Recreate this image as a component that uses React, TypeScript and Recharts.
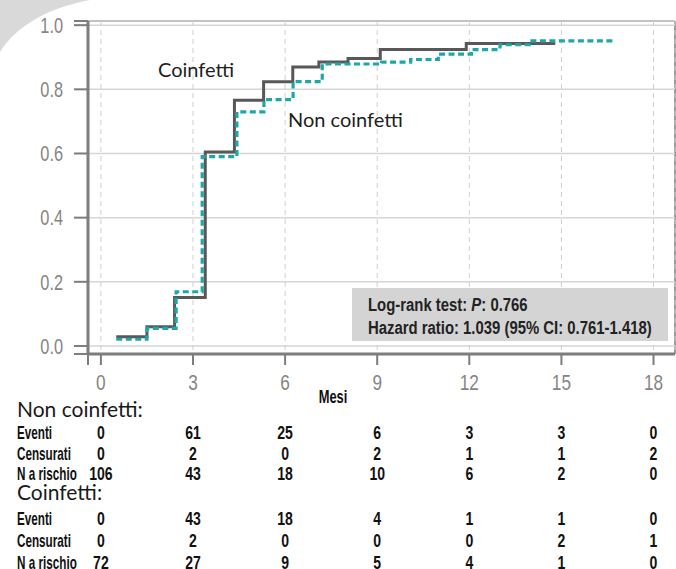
import type { ReactNode } from 'react'
import { LineChart, Line, XAxis, YAxis, CartesianGrid } from 'recharts'

// Kaplan-Meier steps (month, cumulative proportion)
const coinfMonths = [0.5, 1.5, 2.4, 3.4, 4.35, 5.3, 6.25, 7.1, 8.05, 9.1, 11.9, 14.8]
const coinfValues = [0.029, 0.06, 0.151, 0.605, 0.766, 0.824, 0.87, 0.885, 0.896, 0.924, 0.943, 0.943]

const nonMonths = [0.5, 1.5, 2.45, 3.3, 4.43, 5.31, 6.26, 7.21, 9.14, 10.09, 10.99, 12.07, 13.0, 13.95, 16.68]
const nonValues = [0.021, 0.055, 0.169, 0.59, 0.73, 0.768, 0.824, 0.879, 0.885, 0.893, 0.91, 0.924, 0.939, 0.951, 0.951]

const monthTicks = [0, 3, 6, 9, 12, 15, 18]
const propTicks = [0, 0.2, 0.4, 0.6, 0.8, 1.0]

// numbers at risk table
const nonEventi = [0, 61, 25, 6, 3, 3, 0]
const nonCensurati = [0, 2, 0, 2, 1, 1, 2]
const nonRischio = [106, 43, 18, 10, 6, 2, 0]
const coEventi = [0, 43, 18, 4, 1, 1, 0]
const coCensurati = [0, 2, 0, 0, 0, 2, 1]
const coRischio = [72, 27, 9, 5, 4, 1, 0]

const X_MIN = -0.42
const X_MAX = 18.7
const Y_MIN = -0.025
const Y_MAX = 1.013

const W = 676
const H = 569
const PLOT_L = 88
const PLOT_R = 675
const PLOT_T = 21
const PLOT_B = 354

const SANS = '"Liberation Sans", Arial, sans-serif'
const LIGHT = 'Lato, "Open Sans", sans-serif'
const AXIS = '#7d7d7d'
const DARK = '#585858'
const TEAL = '#1fa7a7'

const coinfData = coinfMonths.map((m, i) => ({ m, s: coinfValues[i] }))
const nonData = nonMonths.map((m, i) => ({ m, s: nonValues[i] }))

const colX = (m: number) => PLOT_L + ((m - X_MIN) / (X_MAX - X_MIN)) * (PLOT_R - PLOT_L)

// condensed look: squeeze a regular face horizontally
function NText({ x, y, sx, size, anchor = 'start', bold = false, fill = '#111', dy, children }: {
  x: number; y: number; sx: number; size: number; anchor?: 'start' | 'middle' | 'end'; bold?: boolean; fill?: string; dy?: string; children: ReactNode
}) {
  return (
    <text transform={`translate(${x},${y}) scale(${sx},1)`} textAnchor={anchor} dy={dy}
      fontFamily={SANS} fontSize={size} fontWeight={bold ? 'bold' : 'normal'} fill={fill}>
      {children}
    </text>
  )
}

const XTick = (props: any) => {
  const { x, y, payload } = props
  if (payload.value === X_MIN) return null
  return <NText x={x} y={y} sx={0.8} size={21.5} anchor="middle" dy="0.72em" fill="#858585">{payload.value}</NText>
}

const YTick = (props: any) => {
  const { x, y, payload } = props
  if (payload.value === Y_MIN || payload.value === Y_MAX) return null
  return <NText x={x} y={y} sx={0.76} size={21.5} anchor="end" dy="0.36em" fill="#858585">{payload.value.toFixed(1)}</NText>
}

function TableBlock({ title, top, first, gap, rows }: { title: string; top: number; first: number; gap: number; rows: [string, number[]][] }) {
  return (
    <g>
      <text x={17} y={top} fontFamily={LIGHT} fontSize={21} fill="#1a1a1a">{title}</text>
      {rows.map(([label, vals], r) => {
        const y = top + first + r * gap
        return (
          <g key={label}>
            <NText x={17} y={y} sx={0.65} size={18} bold>{label}</NText>
            {vals.map((v, i) => (
              <NText key={i} x={colX(monthTicks[i])} y={y} sx={0.78} size={18} anchor="middle" bold>{v}</NText>
            ))}
          </g>
        )
      })}
    </g>
  )
}

export default function App() {
  return (
    <div style={{ position: 'absolute', left: 0, top: 0, width: W, height: H, background: '#fff', overflow: 'hidden' }}>
      <svg width={W} height={H} style={{ position: 'absolute', left: 0, top: 0 }}>
        <path d="M0,0 H90 C48,8 16,26 0,52 Z" fill="#d9d9d9" />
        <line x1={74} y1={PLOT_T} x2={PLOT_R} y2={PLOT_T} stroke="#8a8a8a" strokeWidth={2} />
        <line x1={PLOT_R} y1={PLOT_T} x2={PLOT_R} y2={PLOT_B} stroke="#9a9a9a" strokeWidth={2} />
      </svg>
      <div style={{ position: 'absolute', left: 0, top: 0 }}>
        <LineChart width={W} height={H} margin={{ top: PLOT_T, right: W - PLOT_R, left: 0, bottom: H - PLOT_B - 30 }}>
          <CartesianGrid vertical={false} stroke="#d6d6d6" strokeWidth={1.5} />
          <CartesianGrid horizontal={false} stroke="#cfcfcf" strokeDasharray="5 4" />
          <XAxis
            dataKey="m" type="number" domain={[X_MIN, X_MAX]} allowDataOverflow
            ticks={[X_MIN, ...monthTicks]} interval={0} height={30}
            tick={<XTick />} tickSize={11} tickMargin={10}
            axisLine={{ stroke: AXIS, strokeWidth: 3 }} tickLine={{ stroke: AXIS, strokeWidth: 2 }}
          />
          <YAxis
            type="number" domain={[Y_MIN, Y_MAX]} allowDataOverflow width={PLOT_L}
            ticks={[Y_MIN, ...propTicks, Y_MAX]} interval={0}
            tick={<YTick />} tickSize={14} tickMargin={11}
            axisLine={{ stroke: AXIS, strokeWidth: 3 }} tickLine={{ stroke: AXIS, strokeWidth: 2 }}
          />
          <Line data={coinfData} dataKey="s" type="stepAfter" stroke={DARK} strokeWidth={3} dot={false} isAnimationActive={false} />
          <Line data={nonData} dataKey="s" type="stepAfter" stroke={TEAL} strokeWidth={3.2} strokeDasharray="6 3.5" dot={false} isAnimationActive={false} />
        </LineChart>
      </div>
      <svg width={W} height={H} style={{ position: 'absolute', left: 0, top: 0, pointerEvents: 'none' }}>
        <text x={158} y={77} fontFamily={LIGHT} fontSize={20} fill="#1e1e1e">Coinfetti</text>
        <text x={288} y={127} fontFamily={LIGHT} fontSize={20} fill="#1e1e1e">Non coinfetti</text>
        <rect x={352} y={288} width={316} height={53} fill="#d4d4d4" />
        <NText x={368} y={311} sx={0.805} size={18.5} bold fill="#222">
          Log-rank test: <tspan fontStyle="italic">P</tspan>: 0.766
        </NText>
        <NText x={368} y={334} sx={0.805} size={18.5} bold fill="#222">Hazard ratio: 1.039 (95% CI: 0.761-1.418)</NText>
        <NText x={333} y={403} sx={0.68} size={19} anchor="middle" bold>Mesi</NText>
        <TableBlock title="Non coinfetti:" top={417} first={22} gap={20.5}
          rows={[['Eventi', nonEventi], ['Censurati', nonCensurati], ['N a rischio', nonRischio]]} />
        <TableBlock title="Coinfetti:" top={500} first={25} gap={22}
          rows={[['Eventi', coEventi], ['Censurati', coCensurati], ['N a rischio', coRischio]]} />
      </svg>
    </div>
  )
}
